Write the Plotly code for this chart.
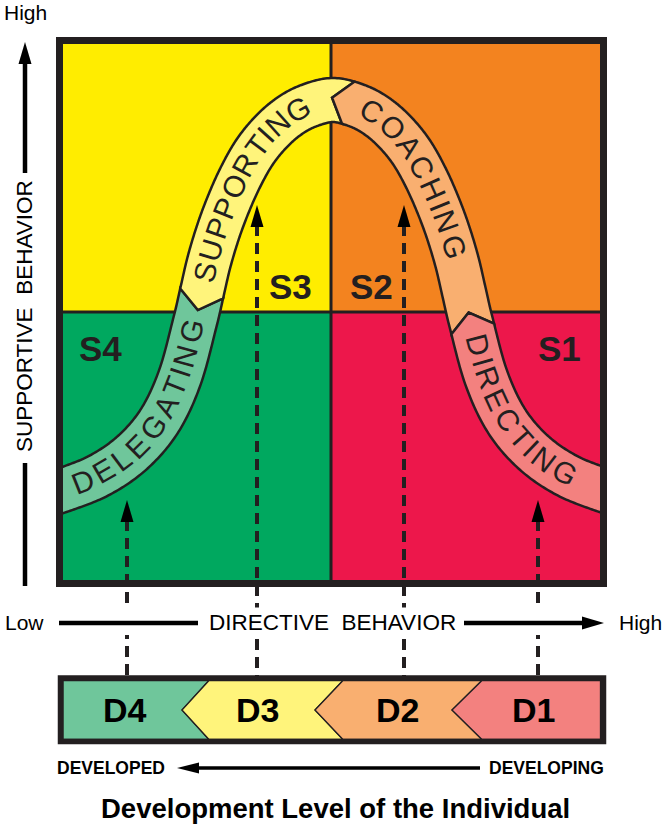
import numpy as np
import plotly.graph_objects as go

W, H = 662, 826
DARK = "#231F20"
FONT = "Liberation Sans, Arial, sans-serif"

# ---------------- data / labels ----------------
quadrant_labels = ["S4", "S3", "S2", "S1"]
quadrant_colors = ["#00A85F", "#FFED00", "#F3831F", "#ED174B"]
quadrant_label_pos = [(100, 348), (290, 286), (371, 286), (559, 348)]

band_labels = ["DELEGATING", "SUPPORTING", "COACHING", "DIRECTING"]
band_colors = ["#6FC69B", "#FFF47B", "#F9AF70", "#F3817F"]
# first / last letter centres of each curved word
band_text_ends = [((83, 480), (195, 333)), ((207, 273), (296, 106)),
                  ((373, 110), (452, 247)), ((472, 347), (563, 477))]

dev_labels = ["D4", "D3", "D2", "D1"]
dev_colors = ["#6FC69B", "#FFF47B", "#F9AF70", "#F3817F"]
dev_label_x = [125, 257, 397, 533]
dev_arrow_x = [127, 257, 404, 538]
dev_arrow_tip = [500, 205, 205, 500]

# bell curve centre line (left half, mirrored for the right half)
curve_left = [(30, 500), (63, 490), (100, 475), (133, 452), (160, 420), (180, 377),
              (195, 322), (202, 292), (209, 262), (218, 232), (228, 205), (240, 178),
              (254, 153), (270, 133), (288, 117), (308, 106)]
curve_peak = (333, 100)
joint_targets = [(202, 294), (349, 100), (473, 330)]

# ---------------- geometry helpers ----------------
def catmull_rom(pts, n=20):
    P = np.array(pts, float)
    P = np.vstack([2 * P[0] - P[1], P, 2 * P[-1] - P[-2]])
    out = []
    for i in range(1, len(P) - 2):
        p0, p1, p2, p3 = P[i - 1], P[i], P[i + 1], P[i + 2]
        for t in np.linspace(0, 1, n, endpoint=False):
            t2, t3 = t * t, t * t * t
            out.append(0.5 * ((2 * p1) + (-p0 + p2) * t + (2 * p0 - 5 * p1 + 4 * p2 - p3) * t2
                              + (-p0 + 3 * p1 - 3 * p2 + p3) * t3))
    out.append(P[-2])
    return np.array(out)

pts = curve_left + [curve_peak] + [(2 * curve_peak[0] - x, y) for (x, y) in reversed(curve_left)]
C = catmull_rom(pts)
d = np.gradient(C, axis=0)
T = d / np.linalg.norm(d, axis=1)[:, None]
N = np.stack([T[:, 1], -T[:, 0]], axis=1)
S = np.concatenate([[0], np.cumsum(np.linalg.norm(np.diff(C, axis=0), axis=1))])
HW = 22.0
TIP = 17.0

def nearest(p):
    return int(np.argmin(np.hypot(C[:, 0] - p[0], C[:, 1] - p[1])))

joints = [nearest(p) for p in joint_targets]
bounds = [0] + joints + [len(C) - 1]

def tip_pt(j):
    return C[j] - TIP * T[j]

def clip(poly, xlim, keep_greater):
    def inside(p):
        return p[0] >= xlim if keep_greater else p[0] <= xlim
    def inter(a, b):
        t = (xlim - a[0]) / (b[0] - a[0])
        return (xlim, a[1] + t * (b[1] - a[1]))
    out = []
    for i in range(len(poly)):
        cur, prev = poly[i], poly[i - 1]
        if inside(cur):
            if not inside(prev):
                out.append(inter(prev, cur))
            out.append(cur)
        elif inside(prev):
            out.append(inter(prev, cur))
    return out

def path_of(poly):
    return "M " + " L ".join(f"{x:.2f},{y:.2f}" for x, y in poly) + " Z"

shapes = []

def rect(x0, y0, x1, y1, fill=None, lw=0, lc=DARK):
    shapes.append(dict(type="rect", xref="x", yref="y", x0=x0, y0=y0, x1=x1, y1=y1,
                       fillcolor=fill if fill else "rgba(0,0,0,0)",
                       line=dict(width=lw, color=lc), layer="above"))

def line(x0, y0, x1, y1, lw=3, lc=DARK, dash=None):
    shapes.append(dict(type="line", xref="x", yref="y", x0=x0, y0=y0, x1=x1, y1=y1,
                       line=dict(width=lw, color=lc, dash=dash), layer="above"))

def poly_shape(poly, fill, lw=0, lc=DARK):
    shapes.append(dict(type="path", xref="x", yref="y", path=path_of(poly), fillcolor=fill,
                       line=dict(width=lw, color=lc), layer="above"))

# ---------------- quadrants ----------------
BX0, BY0, BX1, BY1 = 59.5, 40.5, 603.5, 583.5
MX, MY = 331, 312
quad_rects = [(BX0, MY, MX, BY1), (BX0, BY0, MX, MY), (MX, BY0, BX1, MY), (MX, MY, BX1, BY1)]
for (x0, y0, x1, y1), col in zip(quad_rects, quadrant_colors):
    rect(x0, y0, x1, y1, fill=col)
line(MX, BY0, MX, BY1, lw=3)
line(BX0, MY, BX1, MY, lw=3)

# ---------------- dashed arrows ----------------
for x, tip in zip(dev_arrow_x, dev_arrow_tip):
    line(x, tip + 20, x, 676, lw=4, dash="11px,7px")
    poly_shape([(x, tip), (x - 6.5, tip + 22), (x + 6.5, tip + 22)], "black")

# ---------------- curved band ----------------
for k in range(4):
    i0, i1 = bounds[k], bounds[k + 1]
    outer = [tuple(p) for p in (C[i0:i1 + 1] + HW * N[i0:i1 + 1])]
    inner = [tuple(p) for p in (C[i0:i1 + 1] - HW * N[i0:i1 + 1])][::-1]
    poly = list(outer)
    if k < 3:
        poly.append(tuple(tip_pt(i1)))
    poly += inner
    if k > 0:
        poly.append(tuple(tip_pt(i0)))
    if k == 0:
        poly = clip(poly, 61, True)
    if k == 3:
        poly = clip(poly, 602, False)
    poly_shape(poly, band_colors[k], lw=2.5)

# box border
rect(BX0, BY0, BX1, BY1, lw=7)

# ---------------- axes ----------------
line(25, 62, 25, 173, lw=4.5, lc="black")
poly_shape([(25, 42), (18.5, 64), (31.5, 64)], "black")
line(25, 463, 25, 586, lw=4.5, lc="black")
rect(57, 608, 606, 635, fill="white")
AY = 623
line(59, AY, 198, AY, lw=4.5, lc="black")
line(464, AY, 584, AY, lw=4.5, lc="black")
poly_shape([(604, AY), (582, AY - 6.5), (582, AY + 6.5)], "black")

# ---------------- development bar ----------------
yt, yb, ym = 680.5, 739.5, 710
corner_x = [209, 343, 482]
tip_x = [182, 315, 452]
xs_left = [63] + corner_x
xs_right = corner_x + [600.5]
for k in range(4):
    poly = [(xs_left[k], yt), (xs_right[k], yt)]
    if k < 3:
        poly.append((tip_x[k], ym))
    poly += [(xs_right[k], yb), (xs_left[k], yb)]
    if k > 0:
        poly.append((tip_x[k - 1], ym))
    poly_shape(poly, dev_colors[k], lw=1.3)
rect(60.5, 678, 603.5, 741.5, lw=5.5)

line(480, 768, 196, 768, lw=3.5, lc="black")
poly_shape([(177, 768), (199, 762.5), (199, 773.5)], "black")

# ---------------- annotations ----------------
ann = []

def text(x, y, s, size, bold=False, angle=0, color=DARK, bg=None):
    a = dict(x=x, y=y, xref="x", yref="y", text=f"<b>{s}</b>" if bold else s, showarrow=False,
             font=dict(family=FONT, size=size, color=color), textangle=angle,
             xanchor="center", yanchor="middle")
    if bg:
        a["bgcolor"] = bg
        a["borderpad"] = 2
    ann.append(a)

for lab, (x, y) in zip(quadrant_labels, quadrant_label_pos):
    text(x, y, lab, 35, bold=True)
for lab, x in zip(dev_labels, dev_label_x):
    text(x, ym, lab, 34, bold=True, color="black")

adv = dict(D=.722, E=.667, L=.556, G=.778, A=.667, T=.611, I=.278, N=.722, S=.667,
           U=.722, P=.667, O=.778, R=.722, C=.722, H=.722)
for word, (p0, p1) in zip(band_labels, band_text_ends):
    s0, s1 = S[nearest(p0)], S[nearest(p1)]
    w = [adv[c] for c in word]
    cum = [0.0]
    for i in range(1, len(w)):
        cum.append(cum[-1] + (w[i - 1] + w[i]) / 2)
    for ch, cval in zip(word, cum):
        sv = s0 + (s1 - s0) * cval / cum[-1]
        px = np.interp(sv, S, C[:, 0]); py = np.interp(sv, S, C[:, 1])
        tx = np.interp(sv, S, T[:, 0]); ty = np.interp(sv, S, T[:, 1])
        nx, ny = ty, -tx
        ang = float(np.degrees(np.arctan2(ty, tx)))
        text(px + 1.5 * nx, py + 1.5 * ny, ch, 30, angle=ang)

text(25, 12, "High", 21, color="black")
text(24, 316, "SUPPORTIVE\u00a0 BEHAVIOR", 22.5, angle=-90, color="black")
text(24, 622, "Low", 21, color="black")
text(640, 622, "High", 21, color="black")
text(332, 622, "DIRECTIVE\u00a0 BEHAVIOR", 22.5, color="black", bg="white")
text(111, 768, "DEVELOPED", 17.5, bold=True, color="black")
text(546, 768, "DEVELOPING", 17.5, bold=True, color="black")
text(335, 808, "Development Level of the Individual", 27.5, bold=True, color="black")

fig = go.Figure(go.Scatter(x=[], y=[], hoverinfo="skip"))
fig.update_layout(
    width=W, height=H, margin=dict(l=0, r=0, t=0, b=0),
    paper_bgcolor="white", plot_bgcolor="white", showlegend=False,
    xaxis=dict(range=[0, W], visible=False, fixedrange=True),
    yaxis=dict(range=[H, 0], visible=False, fixedrange=True),
    shapes=shapes, annotations=ann,
)
fig.write_html("out.html", config=dict(displayModeBar=False))
with open("out.html", encoding="utf-8") as f:
    html = f.read()
html = html.replace("<head>", "<head><style>html,body{margin:0;padding:0;overflow:hidden;}</style>", 1)
with open("out.html", "w", encoding="utf-8") as f:
    f.write(html)
